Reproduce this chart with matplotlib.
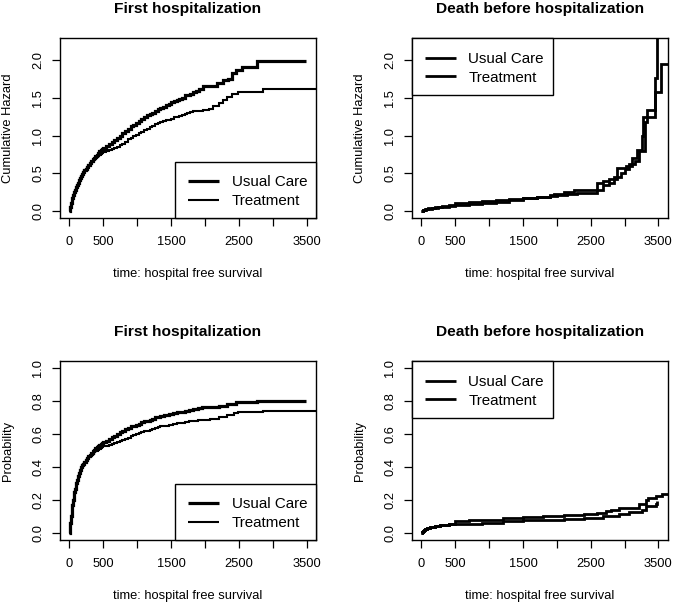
import matplotlib
matplotlib.use("Agg")
import matplotlib.pyplot as plt
from matplotlib.lines import Line2D
from matplotlib.patches import Rectangle

plt.rcParams['font.family'] = ['Liberation Sans', 'DejaVu Sans']

W, H = 675, 604

# ---------------- data ----------------
groups = ["Usual Care", "Treatment"]
titles = ["First hospitalization", "Death before hospitalization"]
xlabel = "time: hospital free survival"
ylabels = ["Cumulative Hazard", "Probability"]
xticks = [0, 500, 1000, 1500, 2000, 2500, 3000, 3500]
xticklabels = ["0", "500", "", "1500", "", "2500", "", "3500"]
yticks_haz = [0.0, 0.5, 1.0, 1.5, 2.0]
yticklabels_haz = ["0.0", "0.5", "1.0", "1.5", "2.0"]
yticks_prob = [0.0, 0.2, 0.4, 0.6, 0.8, 1.0]
yticklabels_prob = ["0.0", "0.2", "0.4", "0.6", "0.8", "1.0"]

# Cumulative hazard, first hospitalization
hosp_haz_uc_t = [0, 5, 10, 15, 20, 30, 40, 50, 60, 70, 80, 90, 100, 115, 130, 145, 160, 175, 190,
                 205, 220, 240, 260, 280, 300, 320, 340, 360, 380, 400, 420, 440, 460, 480, 500,
                 540, 580, 620, 660, 700, 740, 780, 820, 860, 900, 940, 980, 1020, 1060, 1100,
                 1140, 1180, 1220, 1260, 1300, 1340, 1380, 1420, 1460, 1500, 1540, 1580, 1620,
                 1660, 1700, 1740, 1780, 1827, 1870, 1910, 1974, 2100, 2170, 2260, 2330, 2400,
                 2450, 2550, 2760, 3490]
hosp_haz_uc = [0, 0.03, 0.06, 0.09, 0.11, 0.15, 0.18, 0.21, 0.235, 0.26, 0.28, 0.30, 0.32, 0.35,
               0.38, 0.41, 0.44, 0.47, 0.495, 0.52, 0.54, 0.565, 0.59, 0.615, 0.64, 0.665, 0.69,
               0.71, 0.73, 0.75, 0.77, 0.79, 0.805, 0.82, 0.835, 0.86, 0.89, 0.92, 0.945, 0.97,
               1.0, 1.03, 1.06, 1.09, 1.12, 1.14, 1.17, 1.19, 1.22, 1.245, 1.27, 1.29, 1.30, 1.32,
               1.35, 1.37, 1.38, 1.40, 1.42, 1.44, 1.46, 1.47, 1.48, 1.50, 1.53, 1.54, 1.55, 1.57,
               1.59, 1.62, 1.65, 1.66, 1.70, 1.73, 1.75, 1.82, 1.86, 1.90, 1.98, 1.98]
hosp_haz_tr_t = [0, 5, 10, 15, 20, 30, 40, 50, 60, 70, 80, 90, 100, 115, 130, 145, 160, 175, 190,
                 205, 220, 240, 260, 280, 300, 320, 340, 360, 380, 400, 420, 440, 460, 480, 500,
                 540, 580, 620, 660, 700, 740, 780, 820, 860, 900, 940, 980, 1020, 1060, 1100,
                 1140, 1180, 1220, 1260, 1300, 1340, 1380, 1420, 1460, 1500, 1540, 1580, 1620,
                 1660, 1700, 1740, 1780, 1827, 1900, 1974, 2050, 2121, 2200, 2260, 2318, 2400,
                 2490, 2860, 3700]
hosp_haz_tr = [0, 0.03, 0.06, 0.09, 0.11, 0.15, 0.18, 0.21, 0.235, 0.26, 0.28, 0.30, 0.32, 0.35,
               0.38, 0.41, 0.44, 0.47, 0.495, 0.52, 0.54, 0.565, 0.59, 0.61, 0.635, 0.655, 0.675,
               0.69, 0.705, 0.72, 0.735, 0.75, 0.76, 0.775, 0.785, 0.80, 0.815, 0.825, 0.835,
               0.85, 0.87, 0.89, 0.92, 0.95, 0.97, 0.99, 1.01, 1.03, 1.05, 1.07, 1.09, 1.11, 1.13,
               1.15, 1.17, 1.18, 1.19, 1.20, 1.21, 1.22, 1.24, 1.25, 1.26, 1.27, 1.29, 1.30, 1.31,
               1.32, 1.33, 1.34, 1.35, 1.39, 1.43, 1.47, 1.51, 1.55, 1.57, 1.62, 1.62]

# Cumulative hazard, death before hospitalization
death_haz_uc_t = [0, 10, 20, 30, 45, 60, 80, 100, 150, 200, 250, 300, 400, 500, 700, 900, 1100,
                  1300, 1500, 1700, 1900, 2000, 2150, 2300, 2586, 2680, 2773, 2896, 3019, 3117,
                  3190, 3255, 3274, 3450, 3483]
death_haz_uc = [0, 0.008, 0.013, 0.017, 0.022, 0.026, 0.03, 0.034, 0.042, 0.05, 0.055, 0.06,
                0.07, 0.08, 0.095, 0.11, 0.125, 0.145, 0.17, 0.185, 0.20, 0.21, 0.225, 0.245,
                0.37, 0.40, 0.43, 0.57, 0.60, 0.70, 0.81, 1.00, 1.25, 1.76, 3.0]
death_haz_tr_t = [0, 10, 20, 30, 45, 60, 80, 100, 150, 200, 250, 300, 400, 491, 700, 900, 1100,
                  1300, 1500, 1700, 1900, 1963, 2100, 2258, 2684, 2773, 2850, 2950, 3000, 3070,
                  3150, 3220, 3300, 3337, 3445, 3535, 3700]
death_haz_tr = [0, 0.01, 0.016, 0.02, 0.025, 0.03, 0.035, 0.04, 0.048, 0.055, 0.062, 0.07, 0.08,
                0.115, 0.125, 0.135, 0.145, 0.16, 0.17, 0.19, 0.22, 0.235, 0.26, 0.28, 0.35,
                0.37, 0.45, 0.50, 0.56, 0.63, 0.66, 0.80, 1.18, 1.34, 1.58, 1.94, 1.94]

# Cumulative incidence, first hospitalization
hosp_p_uc_t = [0, 5, 10, 15, 20, 30, 40, 50, 60, 70, 80, 90, 100, 115, 130, 145, 160, 175, 190,
               205, 220, 240, 260, 280, 300, 320, 340, 360, 380, 400, 420, 440, 460, 480, 500,
               540, 580, 620, 660, 700, 740, 780, 820, 860, 900, 940, 980, 1020, 1060, 1100,
               1140, 1180, 1220, 1260, 1300, 1340, 1400, 1460, 1520, 1581, 1640, 1700, 1760,
               1827, 1900, 1950, 2072, 2200, 2318, 2450, 2563, 2759, 3490]
hosp_p_uc = [0, 0.03, 0.06, 0.085, 0.105, 0.14, 0.17, 0.20, 0.225, 0.25, 0.27, 0.29, 0.305,
             0.325, 0.345, 0.365, 0.385, 0.40, 0.41, 0.42, 0.43, 0.445, 0.455, 0.465, 0.475,
             0.485, 0.495, 0.505, 0.515, 0.52, 0.525, 0.535, 0.54, 0.545, 0.55, 0.56, 0.57,
             0.58, 0.59, 0.60, 0.61, 0.62, 0.63, 0.635, 0.645, 0.65, 0.655, 0.66, 0.67, 0.675,
             0.68, 0.685, 0.69, 0.70, 0.705, 0.71, 0.715, 0.72, 0.725, 0.73, 0.735, 0.74, 0.745,
             0.75, 0.755, 0.76, 0.765, 0.77, 0.78, 0.79, 0.795, 0.80, 0.80]
hosp_p_tr_t = [0, 5, 10, 15, 20, 30, 40, 50, 60, 70, 80, 90, 100, 115, 130, 145, 160, 175, 190,
               205, 220, 240, 260, 280, 300, 320, 340, 360, 380, 400, 420, 440, 460, 480, 500,
               540, 580, 620, 660, 700, 740, 780, 820, 860, 900, 940, 980, 1020, 1060, 1100,
               1140, 1180, 1220, 1260, 1300, 1340, 1400, 1460, 1520, 1581, 1640, 1700, 1760,
               1827, 1900, 1950, 2072, 2200, 2318, 2420, 2490, 2857, 3700]
hosp_p_tr = [0, 0.03, 0.06, 0.085, 0.105, 0.14, 0.17, 0.20, 0.225, 0.25, 0.27, 0.29, 0.305,
             0.325, 0.345, 0.365, 0.385, 0.40, 0.41, 0.42, 0.43, 0.44, 0.45, 0.46, 0.465, 0.475,
             0.48, 0.49, 0.495, 0.50, 0.505, 0.51, 0.515, 0.52, 0.525, 0.53, 0.535, 0.54, 0.545,
             0.55, 0.555, 0.565, 0.57, 0.575, 0.585, 0.595, 0.60, 0.605, 0.61, 0.615, 0.62,
             0.625, 0.63, 0.635, 0.64, 0.645, 0.65, 0.655, 0.66, 0.665, 0.667, 0.67, 0.675,
             0.68, 0.683, 0.685, 0.69, 0.70, 0.715, 0.725, 0.73, 0.737, 0.737]

# Cumulative incidence, death before hospitalization
death_p_uc_t = [0, 10, 20, 35, 49, 80, 123, 200, 270, 400, 600, 900, 1200, 1500, 1800, 2100,
                2400, 2600, 2675, 2920, 3068, 3264, 3313, 3461, 3485]
death_p_uc = [0, 0.007, 0.012, 0.02, 0.028, 0.034, 0.040, 0.046, 0.050, 0.055, 0.058, 0.065,
              0.072, 0.078, 0.083, 0.088, 0.093, 0.095, 0.104, 0.114, 0.128, 0.144, 0.164,
              0.18, 0.194]
death_p_tr_t = [0, 10, 20, 35, 49, 80, 123, 200, 270, 400, 500, 700, 900, 1200, 1500, 1800,
                2100, 2400, 2600, 2724, 2800, 2920, 3215, 3313, 3350, 3461, 3560, 3700]
death_p_tr = [0, 0.007, 0.012, 0.02, 0.028, 0.034, 0.040, 0.047, 0.052, 0.058, 0.074, 0.078,
              0.083, 0.090, 0.097, 0.104, 0.110, 0.116, 0.12, 0.134, 0.142, 0.155, 0.178, 0.20,
              0.215, 0.224, 0.24, 0.24]

# ---------------- layout helpers ----------------
def fx(x):
    return x / W

def fy(y):
    return 1 - y / H

fig = plt.figure(figsize=(W / 100, H / 100), dpi=100)

FS = 9.3
TFS = 11.15
LFS = 10.9

panels = [
    dict(box=(60, 38, 316, 218), title=titles[0], ylab=ylabels[0], ylim=(-0.088, 2.288),
         yt=yticks_haz, ytl=yticklabels_haz,
         series=[(hosp_haz_uc_t, hosp_haz_uc), (hosp_haz_tr_t, hosp_haz_tr)],
         lws=[2.3, 1.5], leg='br'),
    dict(box=(412, 38, 667.5, 218), title=titles[1], ylab=ylabels[0], ylim=(-0.088, 2.288),
         yt=yticks_haz, ytl=yticklabels_haz,
         series=[(death_haz_uc_t, death_haz_uc), (death_haz_tr_t, death_haz_tr)],
         lws=[2.0, 2.0], leg='tl'),
    dict(box=(60, 361, 316, 540), title=titles[0], ylab=ylabels[1], ylim=(-0.04, 1.04),
         yt=yticks_prob, ytl=yticklabels_prob,
         series=[(hosp_p_uc_t, hosp_p_uc), (hosp_p_tr_t, hosp_p_tr)],
         lws=[2.3, 1.5], leg='br'),
    dict(box=(412, 361, 667.5, 540), title=titles[1], ylab=ylabels[1], ylim=(-0.04, 1.04),
         yt=yticks_prob, ytl=yticklabels_prob,
         series=[(death_p_uc_t, death_p_uc), (death_p_tr_t, death_p_tr)],
         lws=[2.0, 2.0], leg='tl'),
]

LEG_W, LEG_H = 141, 56.5

for p in panels:
    l, t, r, b = p['box']
    ax = fig.add_axes([fx(l), fy(b), (r - l) / W, (b - t) / H])
    for (xs, ys), lw in zip(p['series'], p['lws']):
        ax.plot(xs, ys, drawstyle='steps-post', color='black', lw=lw,
                solid_joinstyle='miter', solid_capstyle='butt')
    ax.set_xlim(-140, 3635)
    ax.set_ylim(*p['ylim'])
    ax.set_xticks(xticks)
    ax.set_xticklabels(xticklabels)
    ax.set_yticks(p['yt'])
    ax.set_yticklabels(p['ytl'], rotation=90, va='center')
    ax.tick_params(axis='both', direction='out', length=5.8, width=0.9, labelsize=FS,
                   color='black', labelcolor='black')
    ax.tick_params(axis='x', pad=7.0)
    ax.tick_params(axis='y', pad=5.6)
    for s in ax.spines.values():
        s.set_linewidth(1.0)
        s.set_color('black')

    cx = (l + r) / 2
    fig.text(fx(cx), fy(t - 25.2), p['title'], ha='center', va='baseline',
             fontsize=TFS, fontweight='bold')
    fig.text(fx(cx), fy(b + 59.5), xlabel, ha='center', va='baseline', fontsize=FS)
    fig.text(fx(l - 49), fy((t + b) / 2), p['ylab'], rotation=90, rotation_mode='anchor',
             ha='center', va='baseline', fontsize=FS)

    # legend box
    if p['leg'] == 'br':
        lx0, ly0 = r - LEG_W, b - LEG_H
    else:
        lx0, ly0 = l, t
    rect = Rectangle((fx(lx0), fy(ly0 + LEG_H)), LEG_W / W, LEG_H / H,
                     transform=fig.transFigure, facecolor='white', edgecolor='black',
                     lw=1.0, zorder=5)
    fig.add_artist(rect)
    for k, (name, lw) in enumerate(zip(groups, p['lws'])):
        yy = ly0 + 19.6 + k * 18.7
        fig.add_artist(Line2D([fx(lx0 + 13), fx(lx0 + 44)], [fy(yy), fy(yy)],
                              transform=fig.transFigure, color='black', lw=lw,
                              solid_capstyle='butt', zorder=6))
        fig.text(fx(lx0 + 56.5), fy(yy + 5.4), name, ha='left', va='baseline',
                 fontsize=LFS, zorder=7)

fig.savefig("out.png", dpi=100, facecolor='white')
